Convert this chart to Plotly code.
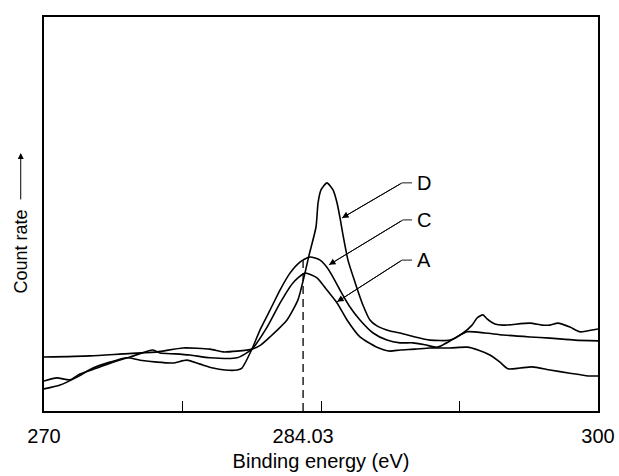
import plotly.graph_objects as go

# Binding energy (eV) and count rate (arbitrary units, 0-100 of frame height)
D_E = [270.00, 272.49, 274.28, 276.12, 277.53, 278.99, 279.70, 280.45, 281.26, 281.75, 282.24,
       283.16, 283.75, 284.13, 284.35, 284.73, 284.84, 285.00, 285.32, 285.65, 285.87, 286.03,
       286.19, 286.46, 286.84, 287.27, 287.65, 288.03, 288.74, 289.28, 290.09, 290.90, 291.99,
       292.69, 293.18, 293.45, 293.77, 293.99, 294.42, 294.86, 296.32, 296.97, 297.40, 297.83,
       298.48, 299.02, 299.40, 300.00]
D_C = [13.7, 14.0, 14.5, 15.0, 16.0, 15.7, 15.0, 15.2, 15.7, 16.8, 18.8,
       23.1, 28.2, 35.0, 39.5, 46.7, 52.8, 56.1, 57.9, 56.1, 52.8, 49.0,
       44.7, 38.3, 32.7, 26.9, 23.1, 21.6, 20.3, 19.8, 18.8, 18.0, 18.0,
       19.8, 21.8, 23.6, 24.4, 23.4, 22.1, 21.8, 22.3, 21.8, 21.8, 22.3,
       21.3, 20.1, 20.3, 20.8]

C_E = [270.00, 270.87, 271.79, 272.65, 273.57, 274.49, 275.20, 276.12, 276.99, 277.74, 278.45,
       279.15, 279.80, 280.45, 280.72, 281.26, 281.70, 282.24, 282.78, 283.32, 283.86, 284.40,
       284.95, 285.32, 285.65, 286.03, 286.57, 287.11, 287.82, 288.57, 289.28, 289.98, 290.63,
       291.28, 291.61, 292.26, 292.91, 293.88, 294.86, 296.32, 297.40, 298.75, 300.00]
C_C = [5.6, 6.6, 8.6, 10.9, 12.4, 13.5, 12.9, 12.4, 12.2, 12.9, 11.9,
       10.9, 10.4, 10.4, 10.9, 15.7, 20.6, 25.6, 30.7, 35.0, 37.8, 39.1,
       38.3, 36.5, 34.0, 30.7, 26.4, 23.1, 19.8, 18.0, 17.3, 17.3, 16.8,
       16.2, 16.8, 18.5, 20.1, 19.8, 19.3, 18.8, 18.5, 18.0, 17.8]

A_E = [270.00, 270.70, 271.41, 271.95, 272.87, 273.95, 274.66, 275.90, 276.28, 277.09, 277.91,
       278.99, 280.45, 281.26, 282.08, 282.78, 283.48, 284.13, 284.78, 285.32, 285.87, 286.41,
       287.11, 288.03, 288.74, 289.28, 290.09, 290.90, 291.99, 292.91, 293.50, 294.15, 294.69,
       295.13, 295.78, 296.43, 297.40, 298.48, 299.46, 300.00]
A_C = [7.6, 8.4, 7.9, 9.4, 10.9, 12.7, 13.7, 15.5, 14.7, 14.5, 14.2,
       13.5, 13.5, 15.7, 21.3, 27.4, 32.5, 35.0, 33.8, 30.7, 27.4, 23.1,
       18.8, 16.2, 15.2, 15.5, 15.7, 16.0, 16.0, 16.2, 15.5, 14.2, 12.4,
       10.7, 10.9, 11.2, 10.4, 9.6, 8.9, 8.9]

PEAK_E = 284.03
PEAK_TOP = 38.8

LABELS = ["D", "C", "A"]
HEAD_E = [286.14, 285.43, 285.87]
HEAD_C = [49.0, 37.1, 27.7]
ELBOW_E = [289.39, 289.44, 289.39]
LABEL_C = [57.9, 48.5, 38.3]
END_E = 289.93
TEXT_E = 290.10

X_TICKS = [270, 284.03, 300]
X_TICK_TEXT = ["270", "284.03", "300"]
MINOR_TICKS = [277.5, 285, 292.5]

FONT = "Liberation Sans, Arial, sans-serif"
LW = 1.6

fig = go.Figure()
for xs, ys in [(D_E, D_C), (C_E, C_C), (A_E, A_C)]:
    fig.add_trace(go.Scatter(x=xs, y=ys, mode="lines",
                             line=dict(color="black", width=LW, shape="spline", smoothing=0.6),
                             showlegend=False, hoverinfo="skip"))

fig.add_trace(go.Scatter(x=[PEAK_E, PEAK_E], y=[0, PEAK_TOP], mode="lines",
                         line=dict(color="black", width=1.3, dash="8px,5px"),
                         showlegend=False, hoverinfo="skip"))

for lab, he, hc, ee, lc in zip(LABELS, HEAD_E, HEAD_C, ELBOW_E, LABEL_C):
    fig.add_trace(go.Scatter(x=[he, ee, END_E], y=[hc, lc, lc], mode="lines",
                             line=dict(color="black", width=0.9),
                             showlegend=False, hoverinfo="skip"))
    fig.add_annotation(x=he, y=hc, ax=ee, ay=lc, axref="x", ayref="y", xref="x", yref="y",
                       text="", showarrow=True, arrowhead=2, arrowsize=1.3, arrowwidth=1,
                       arrowcolor="black")
    fig.add_annotation(x=TEXT_E, y=lc, xref="x", yref="y", text=lab, showarrow=False,
                       xanchor="left", yanchor="middle",
                       font=dict(family=FONT, size=20, color="black"))

# y-axis label with upward arrow
fig.add_annotation(x=-0.042, y=0.404, xref="paper", yref="paper", text="Count rate",
                   textangle=-90, showarrow=False, xanchor="center", yanchor="middle",
                   font=dict(family=FONT, size=18, color="black"))
fig.add_annotation(x=-0.042, y=0.655, xref="paper", yref="paper", text="",
                   showarrow=True, ax=0, ay=48, arrowhead=2, arrowsize=1.2, arrowwidth=1,
                   arrowcolor="black")

fig.update_layout(
    width=619, height=476,
    margin=dict(l=44, r=21, t=17, b=65, autoexpand=False),
    paper_bgcolor="white", plot_bgcolor="white",
    font=dict(family=FONT, size=20, color="black"),
    xaxis=dict(range=[270, 300], tickmode="array", tickvals=X_TICKS, ticktext=X_TICK_TEXT,
               ticks="", showgrid=False, zeroline=False, showline=True, mirror=True,
               linecolor="black", linewidth=1.8, automargin=False, ticklabelstandoff=6,
               tickfont=dict(family=FONT, size=20, color="black"),
               minor=dict(tickmode="array", tickvals=MINOR_TICKS, ticks="inside",
                          ticklen=10, tickwidth=1.2, tickcolor="black", showgrid=False),
               title=dict(text="Binding energy (eV)", standoff=8,
                          font=dict(family=FONT, size=20, color="black"))),
    yaxis=dict(range=[0, 100], showticklabels=False, ticks="", showgrid=False,
               zeroline=False, showline=True, mirror=True, linecolor="black", linewidth=1.8,
               automargin=False),
)

fig.write_html("out.html")
